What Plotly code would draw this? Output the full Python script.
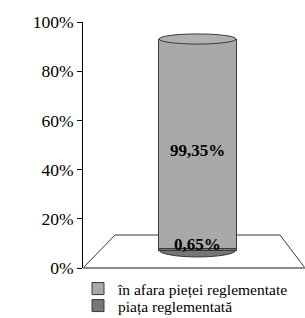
import plotly.graph_objects as go

# ---- data ----
categories = ["2006"]
series_names = ["piața reglementată", "în afara pieței reglementate"]
series_values = [0.65, 99.35]
series_colors = ["#767676", "#a9a9a9"]
tick_values = [0, 20, 40, 60, 80, 100]
tick_labels = ["0%", "20%", "40%", "60%", "80%", "100%"]

FONT = "Liberation Serif"

fig = go.Figure()

# anchor trace for the visible front axis (no marks)
fig.add_trace(go.Scatter(x=[None], y=[None], showlegend=False, hoverinfo="skip"))

bar_w = 0.347
legend_ids = ["legend2", "legend"]
for name, val, col, lg in zip(series_names, series_values, series_colors, legend_ids):
    fig.add_trace(go.Bar(
        x=[0], y=[val], name=name, width=bar_w, legend=lg,
        marker=dict(color=col, line=dict(color="#3a3a3a", width=1)),
        yaxis="y2", hoverinfo="name+y",
    ))

# labels
base = 0.0
shifts = [4, -7]
for val, sh in zip(series_values, shifts):
    txt = f"{val:.2f}".replace(".", ",") + "%"
    ypos = base + (val / 2 if val > 5 else val)
    fig.add_annotation(x=0, y=ypos, xref="x", yref="y2", text=f"<b>{txt}</b>",
                       showarrow=False, yshift=sh,
                       font=dict(family=FONT, size=17, color="black"))
    base += val
total = base

shapes = []
# floor
shapes.append(dict(type="path", xref="paper", yref="paper",
                   path="M 0 0 L 0.1441 0.1341 L 0.8874 0.1341 L 1 0 Z",
                   fillcolor="white", line=dict(color="#3a3a3a", width=1), layer="below"))
shapes.append(dict(type="line", xref="paper", yref="paper", x0=0, x1=1, y0=0, y1=0,
                   line=dict(color="#8c8c8c", width=2), layer="below"))
# bottom ellipse (base of cylinder)
shapes.append(dict(type="circle", xref="x", yref="y2", x0=-bar_w / 2, x1=bar_w / 2,
                   y0=-3.3, y1=3.3, fillcolor=series_colors[0],
                   line=dict(color="#3a3a3a", width=1), layer="below"))
# top ellipse
shapes.append(dict(type="circle", xref="x", yref="y2", x0=-bar_w / 2, x1=bar_w / 2,
                   y0=total - 2.4, y1=total + 2.4, fillcolor="#b0b0b0",
                   line=dict(color="#3a3a3a", width=1), layer="above"))

legend_common = dict(orientation="v", xanchor="left", yanchor="middle",
                     font=dict(family=FONT, size=15.5, color="black"),
                     bgcolor="rgba(0,0,0,0)", borderwidth=0)

fig.update_layout(
    width=305, height=318,
    margin=dict(l=83, r=0, t=22, b=50, autoexpand=False),
    paper_bgcolor="white", plot_bgcolor="white",
    barmode="stack",
    showlegend=True,
    legend=dict(x=-0.0225, y=-(289 - 268) / 246, **legend_common),
    legend2=dict(x=-0.0225, y=-(306 - 268) / 246, **legend_common),
    xaxis=dict(range=[-0.5158, 0.4842], visible=False, fixedrange=True),
    yaxis=dict(range=[0, 100], tickvals=tick_values, ticktext=tick_labels,
               showgrid=False, zeroline=False, showline=True, linecolor="black",
               linewidth=1, ticks="outside", ticklen=5, tickcolor="black",
               tickfont=dict(family=FONT, size=17.5, color="black")),
    yaxis2=dict(range=[-8.531, 108.06], overlaying="y", visible=False),
    shapes=shapes,
)

fig.write_html("out.html", config={"displayModeBar": False},
               post_script="document.body.style.margin='0';document.body.style.overflow='hidden';")
